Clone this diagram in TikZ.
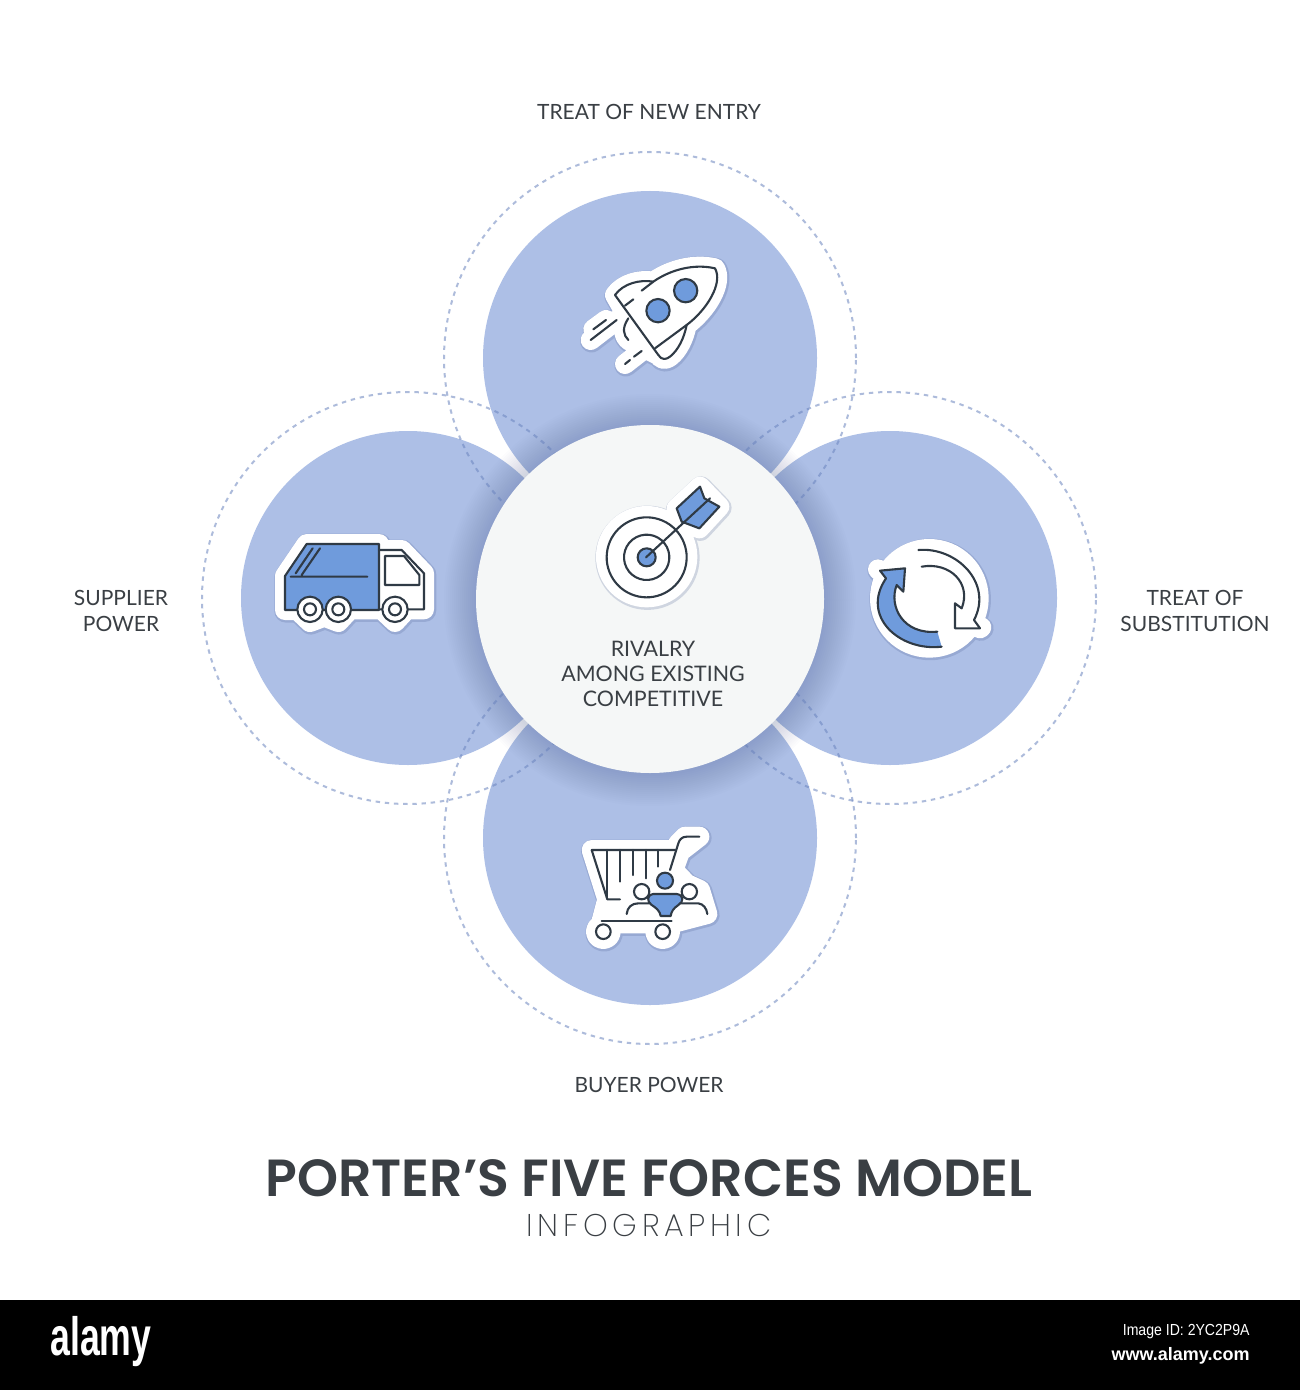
\documentclass[tikz,border=0pt]{standalone}
\usepackage{fontspec}
\setmainfont{Lato}
\newfontfamily\titlefont{Poppins SemiBold}
\newfontfamily\lightfont[LetterSpace=14.8]{Poppins ExtraLight}
\newfontfamily\footfont{Liberation Sans}
\usetikzlibrary{arrows.meta,positioning}
\definecolor{forceBlue}{HTML}{ADBFE6}
\definecolor{iconBlue}{HTML}{6F9BDC}
\definecolor{inkDark}{HTML}{2F3A45}
\definecolor{textDark}{HTML}{3A3F44}
\definecolor{hubFill}{HTML}{F5F7F7}
\definecolor{dashBlue}{HTML}{6A84BE}
\definecolor{shadeBlue}{HTML}{4A5F92}

% icon outlines, used once for the sticker and once for its shadow
\newcommand{\rocketShape}{(465,85) .. controls (400,70) and (330,90) .. (280,125) .. controls (240,118) and (190,130) .. (165,165) -- (205,235) .. controls (185,265) and (190,285) .. (205,300) -- (295,345) .. controls (305,362) and (320,358) .. (330,350) .. controls (355,330) and (372,295) .. (380,255) .. controls (440,210) and (490,130) .. (465,85) -- cycle
  (100,268) -- (138,240) (92,300) -- (170,240) (195,372) -- (245,333)}
\newcommand{\truckShape}{(140,72) -- (357,72) -- (357,90) -- (425,90) -- (492,160) -- (492,268) -- (440,268) -- (405,306) -- (365,268) -- (270,268) -- (235,306) -- (193,290) -- (150,306) -- (112,270) -- (75,270) -- (75,168) -- cycle}
\newcommand{\targetShape}{(260,260) circle (122) (350,115) -- (420,50) -- (478,110) -- (418,175) -- (365,155) -- cycle}
\newcommand{\cycleShape}{(238,235) circle (148) (88,152) -- (84,148) (390,325) -- (394,322)}
\newcommand{\cartShape}{(65,120) -- (315,120) -- (325,100) -- (345,80) -- (388,80) -- (330,125) -- (310,180) -- (350,222) -- (390,240) -- (412,312) -- (305,340) -- (100,340) -- (95,332) -- (112,268) -- cycle (100,365) circle (22) (278,365) circle (22)}

\begin{document}
\begin{tikzpicture}[x=0.5pt, y=-0.5pt,
  force/.style={circle, fill=forceBlue, minimum size=167pt, inner sep=0pt},
  halo/.style={circle, draw=dashBlue, draw opacity=0.55, dash pattern=on 2.2pt off 2.4pt, line width=1pt, minimum size=206pt, inner sep=0pt},
  hub/.style={circle, fill=hubFill, minimum size=174pt, inner sep=0pt},
  label/.style={font=\fontsize{10.5}{12.6}\selectfont, text=textDark, align=center},
  sticker/.style={draw=white, fill=white, line width=10pt, line join=round, line cap=round},
  stickerShade/.style={draw=shadeBlue, fill=shadeBlue, draw opacity=0.22, fill opacity=0.22, line width=11.5pt, line join=round, line cap=round, xshift=1.2pt, yshift=-1.6pt},
  icon/.style={draw=inkDark, line width=1.05pt, line join=round, line cap=round},
  iconFill/.style={icon, fill=iconBlue}
]
  \fill[white] (0,0) rectangle (1300,1390);
  \fill[black] (0,1300) rectangle (1300,1390);

  % four outer circles
  \node[force] (entry) at (650,358) {};
  \node[force] (supplier) at (408,598) {};
  \node[force] (subst) at (890,598) {};
  \node[force] (buyer) at (650,838) {};

  \node[halo] (entryHalo) at (650,358) {};
  \node[halo] (supplierHalo) at (408,598) {};
  \node[halo] (substHalo) at (890,598) {};
  \node[halo] (buyerHalo) at (650,838) {};

  % soft shadow round the middle
  \foreach \rad in {176,178,...,206}
    \fill[shadeBlue, opacity=0.014] (650,600) circle (\rad);
  \node[hub] (rivalry) at (650,599) {};

  % rocket
  \begin{scope}[shift={(560,240)}, scale=1/3]
    \path[stickerShade] \rocketShape;
    \path[sticker] \rocketShape;
    \draw[icon] (245,152) -- (280,125) .. controls (330,90) and (400,70) .. (465,85) .. controls (490,130) and (440,210) .. (380,255) -- (285,325);
    \draw[icon] (195,197) -- (220,178);
    \draw[icon] (280,125) .. controls (240,118) and (190,130) .. (165,165) -- (295,345) .. controls (305,362) and (320,358) .. (330,350) .. controls (355,330) and (372,295) .. (380,255);
    \draw[icon] (205,235) .. controls (185,265) and (190,285) .. (205,300);
    \draw[icon] (100,268) -- (138,240) (92,300) -- (170,240);
    \draw[icon] (195,372) -- (210,360) (222,350) -- (245,333);
    \draw[iconFill] (294,212) circle (35) (377,152) circle (35);
  \end{scope}

  % truck
  \begin{scope}[shift={(260,520)}, scale=1/3]
    \path[stickerShade] \truckShape;
    \path[sticker] \truckShape;
    \draw[iconFill] (140,72) -- (357,72) -- (357,270) -- (75,270) -- (75,168) -- cycle;
    \draw[icon] (357,90) -- (425,90) -- (492,160) -- (492,268) -- (357,268);
    \draw[icon] (375,108) -- (432,108) -- (478,165) -- (478,195) -- (375,195) -- cycle;
    \draw[icon] (92,170) -- (322,170) (107,160) -- (158,85) (125,165) -- (180,85);
    \foreach \wx in {150,235,405} {
      \draw[icon, fill=white] (\wx,268) circle (38);
      \draw[icon] (\wx,268) circle (18);
    }
  \end{scope}

  % target
  \begin{scope}[shift={(560,470)}, scale=1/3]
    \path[stickerShade] \targetShape;
    \path[sticker] \targetShape;
    \draw[icon] (260,262) ++(57:120) arc (57:-330:120);
    \draw[icon] (260,262) ++(63:68) arc (63:-338:68);
    \draw[iconFill] (260,262) circle (27);
    \draw[iconFill] (350,115) -- (420,50) -- (433,85) -- (478,110) -- (418,175) -- (365,155) -- cycle;
    \draw[icon] (258,262) -- (450,85);
  \end{scope}

  % arrows in a ring
  \begin{scope}[shift={(850,520)}, scale=1/3]
    \path[stickerShade] \cycleShape;
    \path[sticker] \cycleShape;
    \fill[iconBlue] (262,335) -- (275,380) .. controls (150,395) and (30,290) .. (108,175) -- (90,152) -- (165,145) -- (160,215) -- (140,195) .. controls (115,260) and (160,345) .. (262,335) -- cycle;
    \draw[icon] (262,335) .. controls (160,345) and (115,260) .. (140,195) -- (160,215) -- (165,145) -- (90,152) -- (108,175) .. controls (30,290) and (150,395) .. (275,380);
    \draw[icon] (205,90) .. controls (320,80) and (430,190) .. (372,300) -- (390,325) -- (315,325) -- (315,250) -- (335,265) .. controls (365,190) and (300,125) .. (215,140);
  \end{scope}

  % cart with people
  \begin{scope}[shift={(570,810)}, scale=1/3]
    \path[stickerShade] \cartShape;
    \path[sticker] \cartShape;
    \draw[icon] (388,80) -- (350,80) .. controls (335,80) and (328,90) .. (325,100) -- (300,180);
    \draw[icon] (65,120) -- (315,120) (65,120) -- (112,268) -- (150,268);
    \draw[icon] (112,120) -- (112,260) (150,120) -- (150,215) (188,120) -- (188,195) (228,120) -- (228,205) (265,120) -- (265,170);
    \draw[icon] (95,332) -- (305,332);
    \draw[icon, fill=white] (100,365) circle (22) (278,365) circle (22);
    \draw[icon, fill=white] (215,245) circle (23) (358,245) circle (23);
    \draw[icon] (170,312) .. controls (172,292) and (185,280) .. (205,280) -- (240,280);
    \draw[icon] (330,280) -- (385,280) .. controls (400,282) and (410,295) .. (412,312);
    \draw[iconFill] (285,212) circle (24);
    \draw[iconFill] (250,252) -- (320,252) .. controls (342,255) and (342,275) .. (325,285) .. controls (310,295) and (304,305) .. (302,318) -- (272,318) .. controls (270,303) and (258,293) .. (245,285) .. controls (230,275) and (230,255) .. (250,252) -- cycle;
  \end{scope}

  % labels
  \node[label] (entryText) at (649,112) {TREAT OF NEW ENTRY};
  \node[label] (supplierText) at (121,611) {SUPPLIER\\POWER};
  \node[label] (substText) at (1195,611) {TREAT OF\\SUBSTITUTION};
  \node[label] (buyerText) at (649,1085) {BUYER POWER};
  \node[label, font=\fontsize{10.7}{12.6}\selectfont] (rivalryText) at (653,674) {RIVALRY\\AMONG EXISTING\\COMPETITIVE};

  \node[font=\fontsize{26.1}{30}\titlefont\selectfont, text=textDark] (title) at (649,1178) {PORTER’S FIVE FORCES MODEL};
  \node[font=\fontsize{15.7}{18}\lightfont\selectfont, text=textDark] (subtitle) at (649,1225) {INFOGRAPHIC};

  % footer
  \node[font=\footfont\bfseries\fontsize{27}{30}\selectfont, text=white, anchor=west, inner sep=0pt] (alamy) at (50,1342) {\scalebox{0.66}[1]{alamy}};
  \node[font=\footfont\fontsize{8}{10}\selectfont, text=white, anchor=east, inner sep=0pt] (imageId) at (1250,1332) {\scalebox{0.88}[1]{Image ID: 2YC2P9A}};
  \node[font=\footfont\bfseries\fontsize{9}{10}\selectfont, text=white, anchor=east, inner sep=0pt] (site) at (1250,1356) {www.alamy.com};
\end{tikzpicture}
\end{document}
